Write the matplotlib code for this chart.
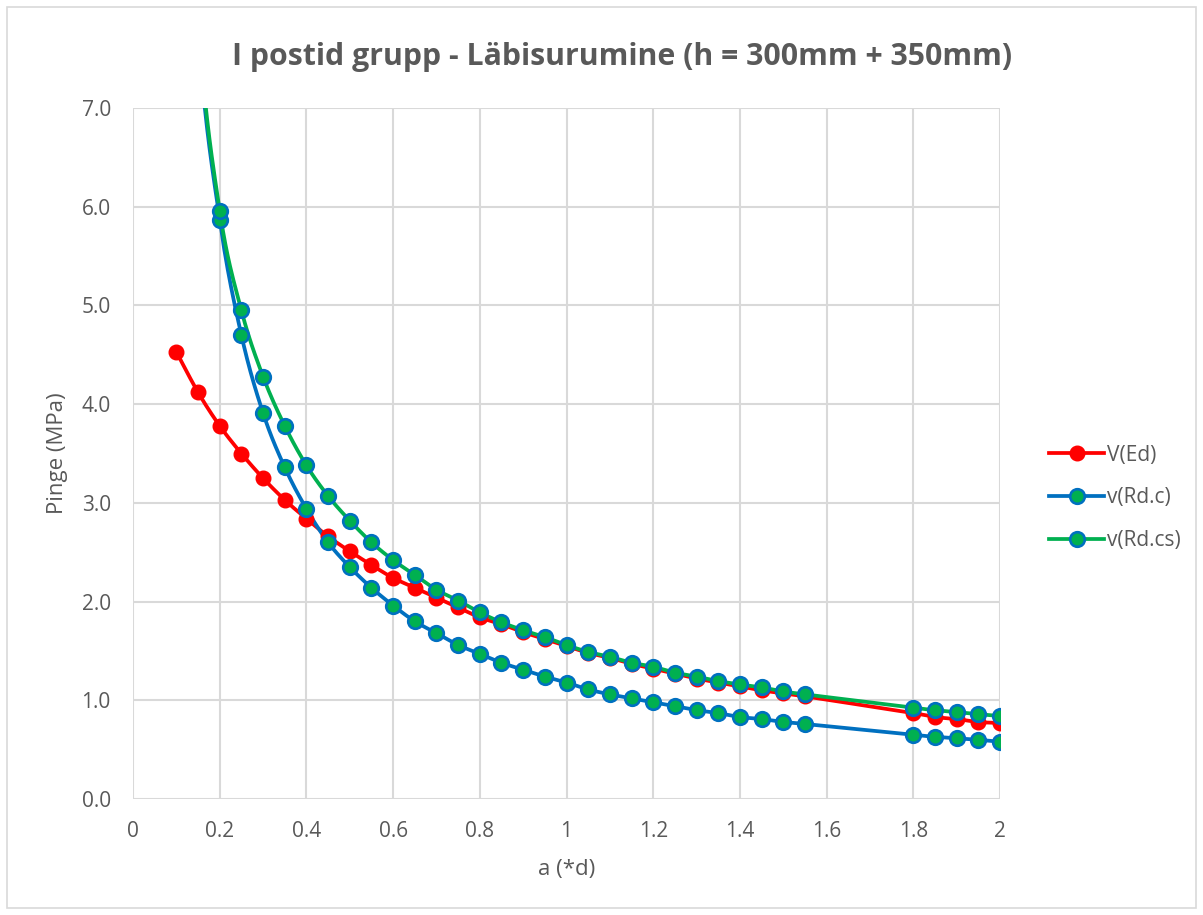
import numpy as np
import matplotlib
matplotlib.use("Agg")
import matplotlib.pyplot as plt
from matplotlib.patches import Rectangle
from matplotlib.lines import Line2D

# ---- data ----
x_ed = [0.10, 0.15, 0.20, 0.25, 0.30, 0.35, 0.40, 0.45, 0.50, 0.55, 0.60, 0.65, 0.70,
        0.75, 0.80, 0.85, 0.90, 0.95, 1.00, 1.05, 1.10, 1.15, 1.20, 1.25, 1.30, 1.35,
        1.40, 1.45, 1.50, 1.55, 1.80, 1.85, 1.90, 1.95, 2.00]
v_ed = [4.53, 4.12, 3.78, 3.50, 3.25, 3.03, 2.84, 2.66, 2.51, 2.37, 2.24, 2.14, 2.04,
        1.94, 1.84, 1.77, 1.69, 1.62, 1.55, 1.48, 1.43, 1.37, 1.32, 1.27, 1.22, 1.18,
        1.14, 1.10, 1.07, 1.04, 0.87, 0.83, 0.81, 0.78, 0.77]

x_rd = x_ed
v_rdc = [12.0, 7.8, 5.87, 4.70, 3.91, 3.36, 2.94, 2.60, 2.35, 2.14, 1.96, 1.80, 1.68,
         1.56, 1.47, 1.38, 1.31, 1.24, 1.18, 1.11, 1.06, 1.02, 0.98, 0.94, 0.90, 0.87,
         0.83, 0.81, 0.78, 0.76, 0.65, 0.63, 0.615, 0.60, 0.58]
v_rdcs = [12.0, 7.9, 5.96, 4.95, 4.28, 3.78, 3.38, 3.07, 2.82, 2.60, 2.42, 2.27, 2.12,
          2.01, 1.89, 1.79, 1.71, 1.64, 1.56, 1.49, 1.44, 1.38, 1.34, 1.28, 1.24, 1.195,
          1.16, 1.13, 1.09, 1.06, 0.925, 0.90, 0.88, 0.86, 0.84]

labels = ["V(Ed)", "v(Rd.c)", "v(Rd.cs)"]
title = "I postid grupp - Läbisurumine (h = 300mm + 350mm)"
xlabel = "a (*d)"
ylabel = "Pinge (MPa)"
xticks = [0, 0.2, 0.4, 0.6, 0.8, 1, 1.2, 1.4, 1.6, 1.8, 2]
xticklabels = ["0", "0.2", "0.4", "0.6", "0.8", "1", "1.2", "1.4", "1.6", "1.8", "2"]
yticks = [0, 1, 2, 3, 4, 5, 6, 7]


def smooth(x, y, n=20, t=0.5):
    """Catmull-Rom style smoothing (like Excel smoothed lines) for rendering."""
    x = np.asarray(x, float)
    y = np.asarray(y, float)
    P = np.column_stack([x, y])
    out = [P[0]]
    for i in range(len(P) - 1):
        p0 = P[i - 1] if i > 0 else P[i]
        p1 = P[i]
        p2 = P[i + 1]
        p3 = P[i + 2] if i + 2 < len(P) else P[i + 1]
        c1 = p1 + (p2 - p0) * t / 3
        c2 = p2 - (p3 - p1) * t / 3
        s = np.linspace(0, 1, n)[1:, None]
        seg = ((1 - s) ** 3) * p1 + 3 * ((1 - s) ** 2) * s * c1 + 3 * (1 - s) * s ** 2 * c2 + s ** 3 * p2
        out.extend(seg)
    out = np.array(out)
    return out[:, 0], out[:, 1]


plt.rcParams['font.family'] = ['Open Sans', 'DejaVu Sans']
gray = "#595959"
red = "#FF0000"
blue = "#0070C0"
green = "#00B050"

fig = plt.figure(figsize=(12.03, 9.15), dpi=100)
W, H = 1203, 915
ax = fig.add_axes([133 / W, 1 - 799 / H, (1000 - 133) / W, (799 - 108) / H])

# outer chart border
fig.patches.append(Rectangle((7 / W, 7 / H), (1196 - 7) / W, (908 - 7) / H,
                             transform=fig.transFigure, fill=False,
                             edgecolor="#D9D9D9", linewidth=1.2))

lw = 2.7
ms = 10.5
mew = 1.9
# V(Ed)
sx, sy = smooth(x_ed, v_ed)
ax.plot(sx, sy, color=red, lw=lw, zorder=3, solid_capstyle="round")
ax.plot(x_ed, v_ed, 'o', color=red, ms=ms, zorder=4)
# v(Rd.c)
sx, sy = smooth(x_rd, v_rdc)
ax.plot(sx, sy, color=blue, lw=lw, zorder=3, solid_capstyle="round")
ax.plot(x_rd[2:], v_rdc[2:], 'o', mfc=green, mec=blue, mew=mew, ms=ms, zorder=5)
# v(Rd.cs)
sx, sy = smooth(x_rd, v_rdcs)
ax.plot(sx, sy, color=green, lw=lw, zorder=3, solid_capstyle="round")
ax.plot(x_rd[2:], v_rdcs[2:], 'o', mfc=green, mec=blue, mew=mew, ms=ms, zorder=5)

ax.set_xlim(0, 2)
ax.set_ylim(0, 7)
ax.set_xticks(xticks)
ax.set_xticklabels(xticklabels)
ax.set_yticks(yticks)
ax.set_yticklabels([f"{v:.1f}" for v in yticks])
ax.grid(True, color="#D9D9D9", lw=1.5)
ax.set_axisbelow(True)
for s in ax.spines.values():
    s.set_visible(False)
ax.tick_params(length=0, colors=gray, labelsize=15)
ax.tick_params(axis='x', pad=16)
ax.tick_params(axis='y', pad=16)
ax.set_xlabel(xlabel, color=gray, fontsize=16, labelpad=12)
ax.set_ylabel(ylabel, color=gray, fontsize=16, labelpad=10)

fig.text(622 / W, 1 - 57 / H, title, ha="center", va="center", color=gray,
         fontsize=21.8, fontweight="bold")

# legend
handles = [
    Line2D([], [], color=red, lw=lw, marker='o', ms=ms, mfc=red, mec=red),
    Line2D([], [], color=blue, lw=lw, marker='o', ms=ms, mfc=green, mec=blue, mew=mew),
    Line2D([], [], color=green, lw=lw, marker='o', ms=ms, mfc=green, mec=blue, mew=mew),
]
leg = fig.legend(handles, labels, loc="center left", bbox_to_anchor=(1039 / W, 1 - 498 / H),
                 frameon=False, fontsize=15, handlelength=2.6, labelspacing=1.05,
                 handletextpad=0.15, borderpad=0)
for t in leg.get_texts():
    t.set_color(gray)

fig.savefig("out.png", dpi=100)
